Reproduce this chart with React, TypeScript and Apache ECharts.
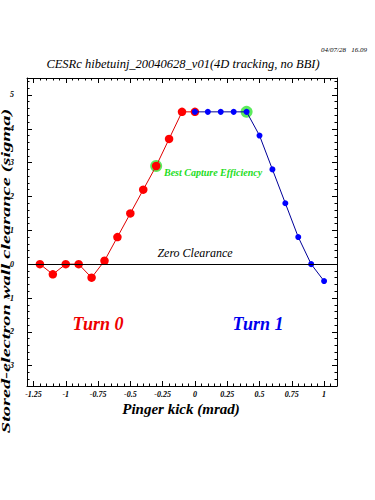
import React, { useEffect, useRef } from "react";
import * as echarts from "echarts";

// ---- data ----
const turn0X = [-1.2, -1.1, -1.0, -0.9, -0.8, -0.7, -0.6, -0.5, -0.4, -0.3, -0.2, -0.1, 0.0];
const turn0Y = [0.0, -0.3, 0.0, 0.0, -0.4, 0.1, 0.8, 1.5, 2.2, 2.9, 3.7, 4.5, 4.5];
const turn1X = [0.0, 0.1, 0.2, 0.3, 0.4, 0.5, 0.6, 0.7, 0.8, 0.9, 1.0];
const turn1Y = [4.5, 4.5, 4.5, 4.5, 4.5, 3.8, 2.8, 1.8, 0.8, 0.0, -0.5];
const bestX = [-0.3, 0.4];
const bestY = [2.9, 4.5];
const xTicks = [-1.25, -1, -0.75, -0.5, -0.25, 0, 0.25, 0.5, 0.75, 1];
const yTicks = [-3, -2, -1, 0, 1, 2, 3, 4, 5];

const X_MIN = -1.3;
const X_MAX = 1.1;
const Y_MIN = -3.6;
const Y_MAX = 5.5;

const makeSteps = (a: number, b: number, step: number, exclude: number[]) => {
  const out: number[] = [];
  const n = Math.round((b - a) / step);
  for (let i = 0; i <= n; i++) {
    const v = Math.round((a + i * step) * 1000) / 1000;
    if (!exclude.some((e) => Math.abs(e - v) < 1e-6)) out.push(v);
  }
  return out;
};
const xMinor = makeSteps(X_MIN, X_MAX, 0.05, xTicks);
const yMinor = makeSteps(Y_MIN, 5.4, 0.2, yTicks);

const SERIF = "'Liberation Serif', 'DejaVu Serif', serif";

const labelStyle = {
  fontSize: 8,
  fontStyle: "italic" as const,
  fontWeight: "bold" as const,
  fontFamily: SERIF,
  color: "#000",
};

const mkX = (pos: string, custom: number[], len: number, labels: boolean, line: boolean) => ({
  type: "value",
  position: pos,
  min: X_MIN,
  max: X_MAX,
  axisLine: { show: line, onZero: false, lineStyle: { color: "#000", width: 1 } },
  axisTick: { show: true, inside: true, length: len, customValues: custom, lineStyle: { color: "#000", width: 1 } },
  axisLabel: labels ? { show: true, customValues: custom, margin: 4, ...labelStyle } : { show: false },
  splitLine: { show: false },
});

const mkY = (pos: string, custom: number[], len: number, labels: boolean, line: boolean) => ({
  type: "value",
  position: pos,
  min: Y_MIN,
  max: Y_MAX,
  axisLine: { show: line, onZero: false, lineStyle: { color: "#000", width: 1 } },
  axisTick: { show: true, inside: true, length: len, customValues: custom, lineStyle: { color: "#000", width: 1 } },
  axisLabel: labels ? { show: true, customValues: custom, margin: 13, ...labelStyle } : { show: false },
  splitLine: { show: false },
});

export default function App() {
  const ref = useRef<HTMLDivElement>(null);
  useEffect(() => {
    document.body.style.margin = "0";
    if (!ref.current) return;
    const chart = echarts.init(ref.current, undefined, { renderer: "svg" });
    chart.setOption({
      animation: false,
      backgroundColor: "#fff",
      grid: { left: 27, right: 38, top: 78, bottom: 114, containLabel: false },
      xAxis: [
        mkX("bottom", xTicks, 5, true, true),
        mkX("bottom", xMinor, 2.5, false, false),
        mkX("top", xTicks, 5, false, true),
        mkX("top", xMinor, 2.5, false, false),
      ],
      yAxis: [
        mkY("left", yTicks, 5, true, true),
        mkY("left", yMinor, 2.5, false, false),
        mkY("right", yTicks, 5, false, true),
        mkY("right", yMinor, 2.5, false, false),
      ],
      series: [
        {
          type: "scatter",
          name: "best",
          data: bestX.map((x, i) => [x, bestY[i]]),
          symbol: "circle",
          symbolSize: 12,
          itemStyle: { color: "#33e633" },
          z: 1,
          silent: true,
        },
        {
          type: "line",
          name: "Turn 0",
          data: turn0X.map((x, i) => [x, turn0Y[i]]),
          symbol: "circle",
          symbolSize: 8.5,
          itemStyle: { color: "#ff0000" },
          lineStyle: { color: "#e00000", width: 1 },
          z: 2,
          markLine: {
            silent: true,
            symbol: ["none", "none"],
            label: { show: false },
            lineStyle: { color: "#000", type: "solid", width: 1 },
            data: [{ yAxis: 0 }],
          },
        },
        {
          type: "line",
          name: "Turn 1",
          data: turn1X.map((x, i) => [x, turn1Y[i]]),
          symbol: "circle",
          symbolSize: 6,
          itemStyle: { color: "#0000ff" },
          lineStyle: { color: "#000099", width: 1 },
          z: 3,
        },
      ],
      graphic: [
        {
          type: "text",
          x: 367,
          y: 50,
          style: { text: "04/07/28   16.09", fontSize: 7, fontStyle: "italic", fontFamily: SERIF, fill: "#000", align: "right", verticalAlign: "middle" },
        },
        {
          type: "text",
          x: 183,
          y: 64,
          style: { text: "CESRc hibetuinj_20040628_v01(4D tracking, no BBI)", fontSize: 12.5, fontStyle: "italic", fontFamily: SERIF, fill: "#000", align: "center", verticalAlign: "middle" },
        },
        {
          type: "text",
          x: 6,
          y: 271,
          rotation: Math.PI / 2,
          scaleX: 1.7,
          style: { text: "Stored-electron wall clearance (sigma)", fontSize: 12, fontStyle: "italic", fontWeight: "bold", fontFamily: SERIF, fill: "#000", align: "center", verticalAlign: "middle" },
        },
        {
          type: "text",
          x: 181,
          y: 409,
          style: { text: "Pinger kick (mrad)", fontSize: 15, fontStyle: "italic", fontWeight: "bold", fontFamily: SERIF, fill: "#000", align: "center", verticalAlign: "middle" },
        },
        {
          type: "text",
          x: 195,
          y: 253,
          style: { text: "Zero Clearance", fontSize: 12, fontStyle: "italic", fontFamily: SERIF, fill: "#000", align: "center", verticalAlign: "middle" },
        },
        {
          type: "text",
          x: 164,
          y: 172,
          style: { text: "Best Capture Efficiency", fontSize: 10, fontStyle: "italic", fontWeight: "bold", fontFamily: SERIF, fill: "#22dd22", align: "left", verticalAlign: "middle" },
        },
        {
          type: "text",
          x: 98,
          y: 324,
          style: { text: "Turn 0", fontSize: 18, fontStyle: "italic", fontWeight: "bold", fontFamily: SERIF, fill: "#ee0000", align: "center", verticalAlign: "middle" },
        },
        {
          type: "text",
          x: 258,
          y: 324,
          style: { text: "Turn 1", fontSize: 18, fontStyle: "italic", fontWeight: "bold", fontFamily: SERIF, fill: "#0000ee", align: "center", verticalAlign: "middle" },
        },
      ],
    });
    return () => chart.dispose();
  }, []);
  return <div ref={ref} style={{ width: 375, height: 500 }} />;
}
